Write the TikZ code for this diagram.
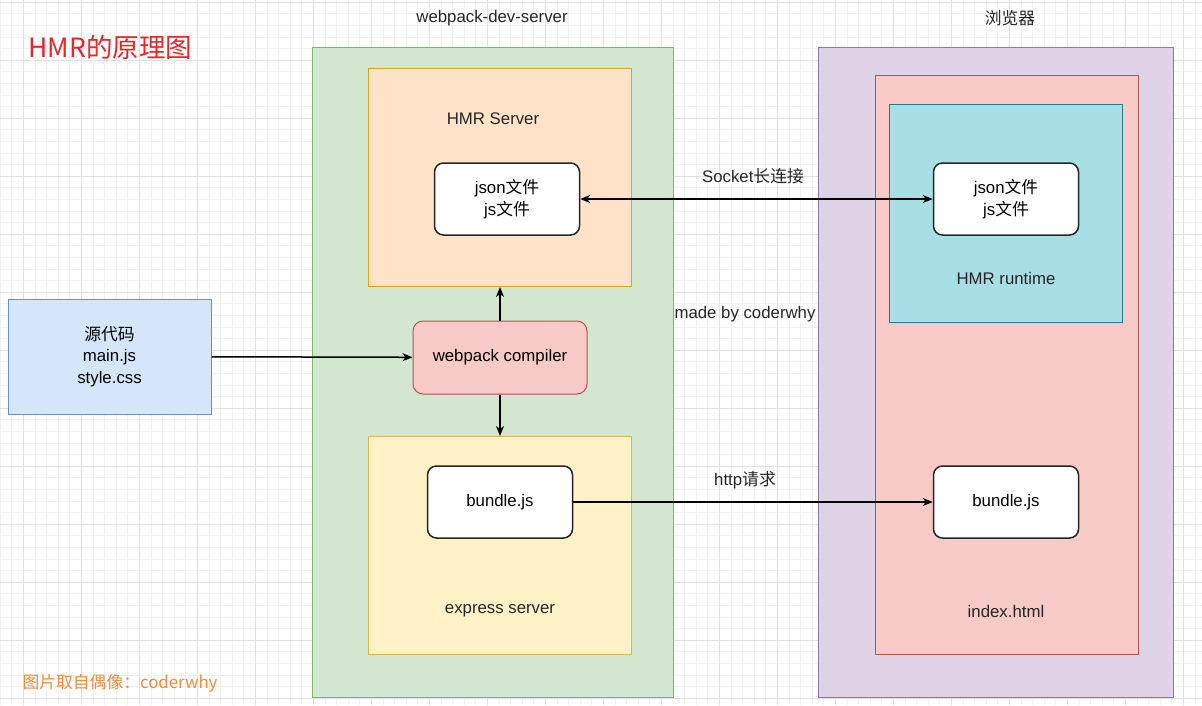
\documentclass[tikz,border=0pt]{standalone}
\usepackage{fontspec}
\setmainfont{Liberation Sans}
\newfontfamily\cjk{Noto Sans CJK SC}
\usetikzlibrary{positioning,arrows.meta}
\newcommand{\zh}[1]{{\cjk #1}}
\newcommand{\lblfont}{\fontsize{16.8}{21.5}\selectfont}
\definecolor{devGreen}{HTML}{D2E6D0}
\definecolor{devGreenLine}{HTML}{82B366}
\definecolor{srvOrange}{HTML}{FFE3C8}
\definecolor{srvOrangeLine}{HTML}{D7A22A}
\definecolor{expYellow}{HTML}{FFF1C6}
\definecolor{expYellowLine}{HTML}{D6B656}
\definecolor{srcBlue}{HTML}{D6E6FA}
\definecolor{srcBlueLine}{HTML}{6C8EBF}
\definecolor{cmpRed}{HTML}{F7C9C7}
\definecolor{cmpRedLine}{HTML}{B85450}
\definecolor{brwPurple}{HTML}{DED2E6}
\definecolor{brwPurpleLine}{HTML}{9673A6}
\definecolor{rtCyan}{HTML}{A8DFE4}
\definecolor{rtCyanLine}{HTML}{1E8088}
\definecolor{titleRed}{HTML}{E5262B}
\definecolor{creditOrange}{HTML}{F08A3E}

\begin{document}
\begin{tikzpicture}[x=1pt, y=-1pt,
  frame/.style={draw, line width=1pt, inner sep=0pt, anchor=north west},
  filebox/.style={draw=black!85, fill=white, rounded corners=9pt, line width=1.5pt,
    minimum width=145pt, minimum height=72pt, align=center, font=\lblfont},
  arr/.style={-{Stealth[length=10pt, width=8pt, inset=3pt]}, line width=1.5pt},
  lbl/.style={font=\lblfont, align=center, text=black!85}
]
\useasboundingbox (0,0) rectangle (1202,705);
% background grid
\foreach \i in {0,...,103}
  \draw[black!5, line width=0.6pt] ({\i*11.6},0) -- ({\i*11.6},705);
\foreach \j in {0,...,60}
  \draw[black!5, line width=0.6pt] (0,{2+\j*11.6}) -- (1202,{2+\j*11.6});
\foreach \i in {0,...,20}
  \draw[black!12, line width=0.8pt] ({23.2+\i*58},0) -- ({23.2+\i*58},705);
\foreach \j in {0,...,12}
  \draw[black!12, line width=0.8pt] (0,{2+\j*58}) -- (1202,{2+\j*58});

% webpack-dev-server side
\node[frame, draw=devGreenLine, fill=devGreen, minimum width=361pt, minimum height=650pt]
  (devServer) at (312,47) {};
\node[frame, draw=srvOrangeLine, fill=srvOrange, minimum width=263pt, minimum height=218pt]
  (hmrServer) at (368,68) {};
\node[frame, draw=expYellowLine, fill=expYellow, minimum width=263pt, minimum height=218pt]
  (expServer) at (368,436) {};
\node[lbl] (devServerLbl) at (492,18) {webpack-dev-server};
\node[lbl] (hmrServerLbl) at (493,119) {HMR Server};
\node[lbl] (expServerLbl) at (500,611) {express server};
\node[filebox] (srvJson) at (507,199) {json\zh{文件}\\js\zh{文件}};
\node[filebox] (srvBundle) at (500,502) {bundle.js};
\node[draw=cmpRedLine, fill=cmpRed, rounded corners=10pt, line width=1pt,
  minimum width=174pt, minimum height=73pt, font=\lblfont] (compiler) at (500,357.5)
  {webpack compiler};

% source files
\node[draw=srcBlueLine, fill=srcBlue, line width=1pt, minimum width=203pt,
  minimum height=115pt, align=center, font=\lblfont] (source) at (109.5,356.5)
  {\zh{源代码}\\main.js\\style.css};

% browser side
\node[frame, draw=brwPurpleLine, fill=brwPurple, minimum width=355pt, minimum height=650pt]
  (browser) at (818,47) {};
\node[frame, draw=cmpRedLine, fill=cmpRed, minimum width=263pt, minimum height=579pt]
  (indexHtml) at (875,75) {};
\node[frame, draw=rtCyanLine, fill=rtCyan, line width=1.3pt, minimum width=233pt,
  minimum height=218pt] (runtime) at (889,104) {};
\node[lbl] (browserLbl) at (1010,18) {\zh{浏览器}};
\node[lbl] (runtimeLbl) at (1006,278) {HMR runtime};
\node[lbl] (indexHtmlLbl) at (1006,611) {index.html};
\node[filebox] (brwJson) at (1006,199) {json\zh{文件}\\js\zh{文件}};
\node[filebox] (brwBundle) at (1006,502) {bundle.js};

% connectors
\draw[arr] (source) -- (compiler);
\draw[arr] (compiler.north) -- (compiler.north |- hmrServer.south);
\draw[arr] (compiler.south) -- (compiler.south |- expServer.north);
\draw[arr, {Stealth[length=10pt, width=8pt, inset=3pt]}-{Stealth[length=10pt, width=8pt, inset=3pt]}]
  (srvJson) -- (brwJson);
\draw[arr, line width=1.1pt] (srvBundle) -- (brwBundle);
\node[lbl] (socketLbl) at (753,176) {Socket\zh{长连接}};
\node[lbl] (httpLbl) at (745,480) {http\zh{请求}};
\node[lbl] (madeBy) at (745,314) {made by coderwhy};

% titles
\node[text=titleRed, font=\cjk\fontsize{26.5}{30}\selectfont, anchor=west] (title) at (25,47)
  {HMR的原理图};
\node[text=creditOrange, font=\cjk\fontsize{16.8}{20}\selectfont, anchor=west] (credit)
  at (19,683) {图片取自偶像：coderwhy};
\end{tikzpicture}
\end{document}
